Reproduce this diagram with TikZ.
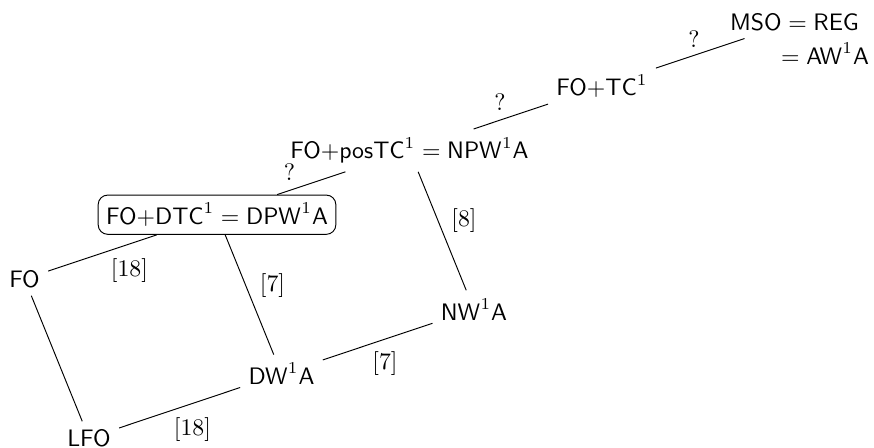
\documentclass[tikz,border=0pt]{standalone}
\usepackage{tikz}
\tikzset{picked/.style={draw, rounded corners}}

\begin{document}
\begin{tikzpicture}
			%%%%% START %%%%%
			
			\useasboundingbox (0, 0) rectangle (12.9, 6.598);
			
			\node (fo) at (0.362, 2.48) {$\mathsf{FO}$};
			\node (lfo) at (1.314, 0.133) {$\mathsf{LFO}$};
			\node (dwa) at (4.155, 1.082) {$\mathsf{DW}^1\mathsf{A}$};
			\node (nwa) at (6.996, 2.031) {$\mathsf{NW}^1\mathsf{A}$};
			
			\node[picked] (dtc) at (3.203, 3.429) {$\mathsf{FO}{+}\mathsf{DTC}^1 = \mathsf{DPW}^1\mathsf{A}$};
			\node (postc) at (6.044, 4.378) {$\mathsf{FO}{+}\mathsf{posTC}^1 = \mathsf{NPW}^1\mathsf{A}$};
			\node (tc) at (8.885, 5.327) {$\mathsf{FO}{+}\mathsf{TC}^1$};
			\node (mso) at (11.726, 6.276) {$\mathsf{MSO} = \mathsf{REG}$};
			\node (awa) at (12.177, 5.81) {$= \mathsf{AW}^1\mathsf{A}$};
			
			\draw (fo) -- (dtc);
			\draw (fo) -- (lfo);
			\draw (lfo) -- (dwa);
			\draw (dtc) -- (dwa);
			\draw (dwa) -- (nwa);
			\draw (nwa) -- (postc);
			\draw (dtc) -- (postc);
			\draw (postc) -- (tc);
			\draw (tc) -- (mso);
			
			\node (ref1) at (1.911, 2.598) {[18]};
			\node (ref2) at (2.841, 0.251) {[18]};
			\node (ref3) at (4.022, 2.376) {[7]};
			\node (ref4) at (5.683, 1.232) {[7]};
			\node (ref5) at (6.849, 3.336) {[8]};
			
			\node (open1) at (4.273, 4.051) {?};
			\node (open2) at (7.38, 5.085) {?};
			\node (open3) at (10.243, 6.022) {?};
			
			%%%%% END %%%%%
\end{tikzpicture}
\end{document}
